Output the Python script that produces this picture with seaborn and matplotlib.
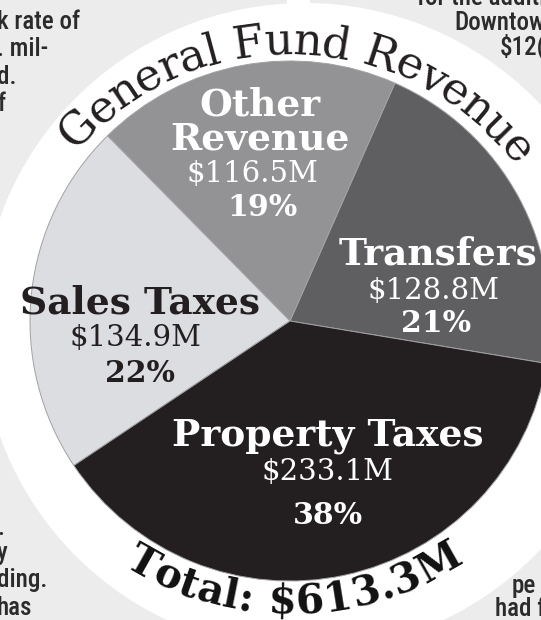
import numpy as np
import matplotlib
matplotlib.use("Agg")
import matplotlib.pyplot as plt
import seaborn as sns
from matplotlib.patches import Circle, Rectangle
from matplotlib.font_manager import FontProperties, findfont, get_font, fontManager

# ---------------- data ----------------
categories = ["Transfers", "Other Revenue", "Sales Taxes", "Property Taxes"]
label_lines = ["Transfers", "Other\nRevenue", "Sales Taxes", "Property Taxes"]
values = [128.8, 116.5, 134.9, 233.1]
value_labels = ["$128.8M", "$116.5M", "$134.9M", "$233.1M"]
pct_labels = ["21%", "19%", "22%", "38%"]
title_text = "General Fund Revenue"
total_text = "Total: $613.3M"

# background newspaper fragments (clipped by the figure edge)
bg_left_top = ["k rate of", ". mil-", "d.", "f"]
bg_right_top = ["for the additi", "Downtow", "$12("]
bg_left_bottom = [".", "y", "ding.", "has"]
bg_right_bottom = ["pe", "had f"]

# ---------------- style ----------------
sns.set_theme(style="white")
plt.rcParams["font.family"] = ["DejaVu Serif", "DejaVu Sans"]

W, H, DPI = 541, 620, 100
BG = "#ececec"
slice_colors = ["#5f5f61", "#939396", "#dcdde0", "#231f20"]
text_colors = ["white", "white", "#231f20", "white"]

fig = plt.figure(figsize=(W / DPI, H / DPI), dpi=DPI, facecolor=BG)
ax = fig.add_axes([0, 0, 1, 1])
ax.set_facecolor(BG)


def Y(y_img):
    return H - y_img


def advances(s, fp):
    font = get_font(findfont(fp))
    font.set_size(fp.get_size_in_points(), 72)
    out = []
    for ch in s:
        g = font.load_char(ord(ch))
        out.append(g.linearHoriAdvance / 65536.0)
    return np.array(out) * DPI / 72.0  # pixels


def fit_size(s, target_px, **kw):
    fp = FontProperties(size=10, **kw)
    w = advances(s, fp).sum()
    return 10 * target_px / w


def arc_text(s, cx, cy, rb, a0, a1, r_mid, color, top=True, **kw):
    fp = FontProperties(size=10, **kw)
    adv = advances(s, fp)
    c = np.cumsum(adv) - adv / 2
    span = c[-1] - c[0]
    target = r_mid * np.deg2rad(abs(a1 - a0))
    size = 10 * target / span
    fp = FontProperties(size=size, **kw)
    adv = advances(s, fp)
    c = np.cumsum(adv) - adv / 2
    frac = (c - c[0]) / (c[-1] - c[0])
    ang = a0 + (a1 - a0) * frac
    for ch, a in zip(s, ang):
        if ch == " ":
            continue
        t = np.deg2rad(a)
        x = cx + rb * np.cos(t)
        y = cy + rb * np.sin(t)
        rot = a - 90 if top else a + 90
        ax.text(x, y, ch, fontproperties=fp, color=color, rotation=rot,
                rotation_mode="anchor", ha="center", va="baseline", zorder=6)


# pick a condensed sans for the background copy
names = {f.name for f in fontManager.ttflist}
bg_family = "Roboto"
for cand in ["Liberation Sans Narrow", "DejaVu Sans Condensed", "Roboto Condensed"]:
    if cand in names:
        bg_family = cand
        break
bg_kw = dict(family=bg_family, fontsize=18, fontweight=500, color="#2b2b2b",
             va="center", zorder=1)

# left-edge fragments: start just off the left edge
for txt, yc in zip(bg_left_top, [22, 49, 77, 104]):
    ax.text(-3, Y(yc), txt, ha="left", **bg_kw)
# right-edge fragments: run off the right edge
for txt, yc in zip(bg_right_top, [-2, 23, 47]):
    ax.text(W + 4, Y(yc), txt, ha="right", **bg_kw)
for txt, yc in zip(bg_left_bottom, [528, 553, 580, 608]):
    ax.text(-3, Y(yc), txt, ha="left", **bg_kw)
ax.text(512, Y(586), bg_right_bottom[0], ha="left", **bg_kw)
ax.text(W + 4, Y(609), bg_right_bottom[1], ha="right", **bg_kw)

# white ring behind the pie
ax.add_patch(Circle((305, Y(327)), 324, facecolor="white", edgecolor="none", zorder=2))
ax.add_patch(Rectangle((287, Y(12)), 23, 14, facecolor="white", edgecolor="none", zorder=2))

# pie
wedges, _ = ax.pie(values, colors=slice_colors, startangle=-9.4, counterclock=True,
                   center=(290, Y(321)), radius=260,
                   wedgeprops=dict(edgecolor="#a2a2a4", linewidth=0.7))
for w_ in wedges:
    w_.set_zorder(3)

ax.set_xlim(0, W)
ax.set_ylim(0, H)
ax.set_aspect("equal", adjustable="box")
ax.axis("off")

# slice labels
lab_size = fit_size("Property Taxes", 316, family="DejaVu Serif", weight="bold")
val_size = fit_size("$233.1M", 132, family="DejaVu Serif")
pct_size = fit_size("38%", 70, family="DejaVu Serif", weight="bold")

label_pos = [(438, [254]), (260, [105, 139]), (140, [303]), (328, [435])]
value_pos = [(434, 291), (252, 174), (136, 338), (328, 472)]
pct_pos = [(436, 323), (262, 207), (140, 373), (328, 515)]

for i in range(len(categories)):
    col = text_colors[i]
    lx, lys = label_pos[i]
    for line, ly in zip(label_lines[i].split("\n"), lys):
        ax.text(lx, Y(ly), line, fontsize=lab_size, fontweight="bold",
                family="DejaVu Serif", color=col, ha="center", va="center", zorder=5)
    vx, vy = value_pos[i]
    ax.text(vx, Y(vy), value_labels[i], fontsize=val_size, family="DejaVu Serif",
            color=col, ha="center", va="center", zorder=5)
    px, py = pct_pos[i]
    ax.text(px, Y(py), pct_labels[i], fontsize=pct_size, fontweight="bold",
            family="DejaVu Serif", color=col, ha="center", va="center", zorder=5)

# curved title and total
arc_text(title_text, 289, Y(336), 282, 135.4, 39.4, 294, "#231f20", top=True,
         family="DejaVu Serif")
arc_text(total_text, 290, Y(300), 314, 240.7, 299.5, 302, "#111111", top=False,
         family="DejaVu Serif", weight="bold")

fig.savefig("out.png", dpi=DPI, facecolor=BG)
